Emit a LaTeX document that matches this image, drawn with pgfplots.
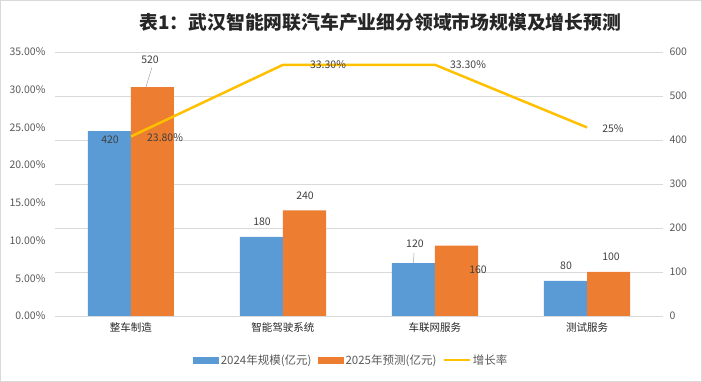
\documentclass[border=0pt]{standalone}
\usepackage{pgfplots}
\pgfplotsset{compat=1.18}
\usepackage{fontspec}
\setmainfont{Noto Sans CJK SC}
\definecolor{cblue}{HTML}{5B9BD5}
\definecolor{corange}{HTML}{ED7D31}
\definecolor{cgold}{HTML}{FFC000}
\definecolor{tgray}{HTML}{595959}
\definecolor{lgray}{HTML}{404040}
\definecolor{gridc}{HTML}{D9D9D9}
\begin{document}
\begin{tikzpicture}[x=1pt,y=1pt]
\useasboundingbox (-55,-66) rectangle (647,316);
\draw[gridc] (-54.5,-65.5) rectangle (646.5,315.5);
% bars on right axis
\begin{axis}[
  scale only axis, width=608pt, height=264pt,
  at={(0,0)}, anchor=south west,
  xmin=-0.5, xmax=3.5, ymin=0, ymax=600,
  ybar=0pt, bar width=43pt,
  axis x line*=bottom, axis y line*=right,
  y axis line style={draw=none},
  x axis line style={draw=gridc, line width=0.8pt},
  ytick={0,100,...,600},
  yticklabels={0,100,200,300,400,500,600},
  ytick style={draw=none},
  yticklabel style={font=\fontsize{10.5}{12}\selectfont, text=tgray, xshift=3pt},
  ymajorgrids, xmajorgrids=false, grid style={draw=gridc, line width=0.6pt},
  xtick={0,1,2,3},
  xticklabels={整车制造,智能驾驶系统,车联网服务,测试服务},
  xticklabel style={font=\fontsize{10.5}{12}\selectfont, text=black!85, yshift=1pt},
  major x tick style={draw=none},
  extra x ticks={-0.5,0.5,1.5,2.5,3.5},
  extra x tick labels={},
  extra x tick style={grid=none, tick align=outside, major tick length=5pt, tick style={draw=gridc, line width=0.8pt}},
  legend style={at={(axis description cs:0.487,-0.167)}, anchor=center, draw=none, fill=none,
    legend columns=3, font=\fontsize{11.5}{13}\selectfont, text=tgray,
    /tikz/every even column/.append style={column sep=4pt}},
  legend cell align=left,
  clip=false,
]
\addplot[fill=cblue, draw=none, area legend,
  legend image code/.code={\fill[cblue] (0pt,-3.5pt) rectangle (26pt,3.5pt);}]
  coordinates {(0,420) (1,180) (2,120) (3,80)};
\addlegendentry{2024年规模(亿元)}
\addplot[fill=corange, draw=none, area legend,
  legend image code/.code={\fill[corange] (0pt,-3.5pt) rectangle (26pt,3.5pt);}]
  coordinates {(0,520) (1,240) (2,160) (3,100)};
\addlegendentry{2025年预测(亿元)}
\addlegendimage{legend image code/.code={\draw[cgold, line width=2.5pt] (0pt,0pt) -- (26pt,0pt);}}
\addlegendentry{增长率}
% data labels for bars
\begin{scope}[every node/.style={font=\fontsize{10.5}{12}\selectfont, text=lgray}]
\node at (axis cs:-0.138,400) {420};
\node at (axis cs:0.125,582) {520};
\draw[gray!70, line width=0.5pt] (axis cs:0.138,565) -- (axis cs:0.098,520);
\node at (axis cs:0.862,214) {180};
\node at (axis cs:1.145,273) {240};
\node at (axis cs:1.868,164) {120};
\draw[gray!70, line width=0.5pt] (axis cs:1.862,143) -- (axis cs:1.858,120);
\node at (axis cs:2.283,105) {160};
\node at (axis cs:2.862,114) {80};
\node at (axis cs:3.158,134) {100};
\end{scope}
\node[font=\bfseries\fontsize{18.8}{22}\selectfont, text=black!85] at (axis description cs:0.535,1.114) {表1：武汉智能网联汽车产业细分领域市场规模及增长预测};
\end{axis}
% line on left axis
\begin{axis}[
  scale only axis, width=608pt, height=264pt,
  at={(0,0)}, anchor=south west,
  xmin=-0.5, xmax=3.5, ymin=0, ymax=0.35,
  axis x line=none, axis y line*=left,
  y axis line style={draw=none},
  ytick={0,0.05,...,0.351},
  yticklabels={0.00\%,5.00\%,10.00\%,15.00\%,20.00\%,25.00\%,30.00\%,35.00\%},
  ytick style={draw=none},
  yticklabel style={font=\fontsize{10.5}{12}\selectfont, text=tgray, xshift=-6pt},
  clip=false,
]
\addplot[cgold, line width=2.5pt, line join=round] coordinates {(0,0.238) (1,0.333) (2,0.333) (3,0.25)};
\begin{scope}[every node/.style={font=\fontsize{10.5}{12}\selectfont, text=lgray}]
\node at (axis cs:0.224,0.236) {23.80\%};
\node at (axis cs:1.296,0.3328) {33.30\%};
\node at (axis cs:2.217,0.3328) {33.30\%};
\node at (axis cs:3.171,0.249) {25\%};
\end{scope}
\end{axis}
\end{tikzpicture}
\end{document}
